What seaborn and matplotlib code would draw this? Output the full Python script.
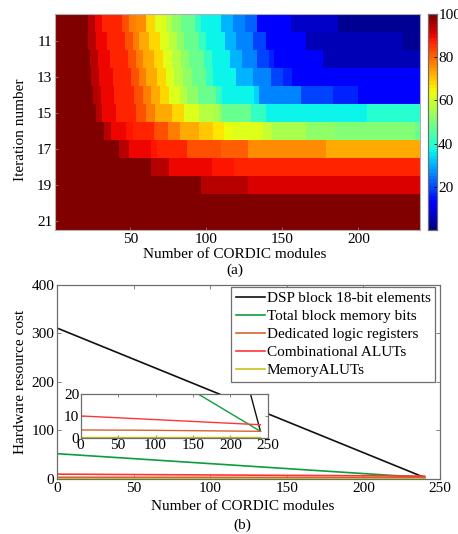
import numpy as np
import pandas as pd
import matplotlib
matplotlib.use("Agg")
import matplotlib.pyplot as plt
import seaborn as sns

# ---------------- data (a): heatmap, iteration number x number of CORDIC modules
iterations = list(range(10, 22))
n_modules = 240
# start column of each colour block and the value (0-100) of that block, per iteration row
row_starts = {
    10: [1, 23, 27, 32, 45, 50, 54, 61, 67, 74, 78, 84, 93, 97, 110, 118, 126, 134, 156, 187],
    11: [1, 23, 28, 35, 47, 52, 56, 63, 70, 76, 81, 86, 96, 100, 113, 120, 131, 140, 166, 230],
    12: [1, 24, 29, 37, 49, 54, 59, 66, 72, 78, 84, 89, 99, 104, 116, 124, 134, 142, 145, 177],
    13: [1, 25, 30, 39, 51, 56, 61, 68, 74, 79, 85, 91, 100, 105, 120, 131, 143, 151, 157],
    14: [1, 26, 31, 40, 53, 59, 64, 70, 76, 83, 88, 95, 107, 111, 132, 135, 163, 184, 200],
    15: [1, 28, 32, 41, 54, 61, 67, 78, 86, 96, 105, 109, 111, 130, 140, 206],
    16: [1, 33, 38, 48, 52, 66, 75, 83, 96, 105, 112, 118, 138, 144, 166, 185, 238],
    17: [1, 43, 50, 64, 68, 88, 110, 128, 179],
    18: [1, 64, 76, 104, 119],
    19: [1, 97, 128],
    20: [1],
    21: [1],
}
row_values = {
    10: [100, 95, 90, 87, 82, 78, 75, 68, 62, 57, 52, 47, 42, 37, 30, 25, 22, 12, 7, 2],
    11: [100, 95, 90, 87, 82, 78, 73, 68, 62, 57, 52, 47, 42, 37, 30, 25, 20, 12, 6, 2],
    12: [100, 95, 90, 87, 82, 78, 73, 68, 62, 57, 52, 47, 42, 37, 30, 25, 20, 16, 12, 6],
    13: [100, 95, 90, 87, 82, 78, 73, 68, 62, 57, 52, 47, 42, 37, 30, 25, 20, 16, 11],
    14: [100, 95, 90, 87, 82, 78, 73, 68, 62, 57, 52, 47, 42, 37, 33, 25, 20, 16, 11],
    15: [100, 95, 90, 87, 82, 78, 73, 68, 62, 57, 55, 52, 47, 42, 37, 40],
    16: [100, 95, 90, 88, 87, 82, 78, 73, 70, 67, 64, 62, 59, 56, 53, 50, 47],
    17: [100, 95, 90, 88, 87, 82, 80, 76, 72],
    18: [100, 95, 90, 88, 87],
    19: [100, 95, 91],
    20: [100],
    21: [100],
}
x_tick_values = [50, 100, 150, 200]
y_tick_values = [11, 13, 15, 17, 19, 21]
cbar_ticks = [20, 40, 60, 80, 100]

# ---------------- data (b): hardware resource cost
series_names = ["DSP block 18-bit elements", "Total block memory bits",
                "Dedicated logic registers", "Combinational ALUTs", "MemoryALUTs"]
dsp_x, dsp_y = [1, 240], [310, 3]
mem_x, mem_y = [1, 240], [52, 3]
reg_x, reg_y = [1, 80, 240], [3.6, 3.5, 3.0]
alut_x, alut_y = [1, 240], [10, 6]
malut_x, malut_y = [1, 240], [0.5, 0.5]
series_colors = ["#111111", "#0a9e3c", "#d8632a", "#ff3535", "#c8c214"]

# ---------------- build tables
matrix = np.zeros((len(iterations), n_modules))
for i, it in enumerate(iterations):
    for s, v in zip(row_starts[it], row_values[it]):
        matrix[i, s - 1:] = v
heat_df = pd.DataFrame(matrix, index=iterations, columns=range(1, n_modules + 1))

parts = []
for name, xs, ys in zip(series_names,
                        [dsp_x, mem_x, reg_x, alut_x, malut_x],
                        [dsp_y, mem_y, reg_y, alut_y, malut_y]):
    parts.append(pd.DataFrame({"modules": xs, "cost": ys, "series": name}))
line_df = pd.concat(parts, ignore_index=True)
palette = dict(zip(series_names, series_colors))

# ---------------- style
plt.rcParams["font.family"] = ["Liberation Serif", "DejaVu Serif"]
plt.rcParams["font.size"] = 11
plt.rcParams["xtick.direction"] = "in"
plt.rcParams["ytick.direction"] = "in"
frame_col = "#6e6e6e"

fig = plt.figure(figsize=(4.58, 5.34), dpi=100)

# ---------------- (a)
ax1 = fig.add_axes([0.120, 0.569, 0.797, 0.405])
cax = fig.add_axes([0.934, 0.569, 0.0197, 0.405])
cmap = plt.get_cmap("jet", 64)
sns.heatmap(heat_df, ax=ax1, cmap=cmap, vmin=0, vmax=100, cbar_ax=cax,
            xticklabels=False, yticklabels=False, cbar_kws={"ticks": cbar_ticks})
ax1.set_xticks([v - 0.5 for v in x_tick_values])
ax1.set_xticklabels([str(v) for v in x_tick_values], fontsize=11)
ax1.set_yticks([iterations.index(v) + 0.5 for v in y_tick_values])
ax1.set_yticklabels([str(v) for v in y_tick_values], fontsize=11, rotation=0)
ax1.set_xlabel("")
ax1.set_ylabel("")
for sp in ax1.spines.values():
    sp.set_visible(True)
    sp.set_color("#b0b0b0")
    sp.set_linewidth(0.8)
ax1.tick_params(length=2, width=0.6, color="#808080", pad=2)
cax.tick_params(labelsize=11, length=2, width=0.6, pad=1)
for sp in cax.spines.values():
    sp.set_visible(True)
    sp.set_color(frame_col)
    sp.set_linewidth(0.8)

fig.text(0.045, 0.757, "Iteration number", rotation=90, ha="center", va="center", fontsize=11)
fig.text(0.513, 0.523, "Number of CORDIC modules", ha="center", va="center", fontsize=11)
fig.text(0.513, 0.494, "(a)", ha="center", va="center", fontsize=11)

# ---------------- (b)
ax2 = fig.add_axes([0.1245, 0.1030, 0.836, 0.3633])
sns.lineplot(data=line_df, x="modules", y="cost", hue="series", hue_order=series_names,
             palette=palette, estimator=None, sort=False, linewidth=1.2, ax=ax2)
ax2.set_xlim(0, 250)
ax2.set_ylim(0, 400)
ax2.set_xticks([0, 50, 100, 150, 200, 250])
ax2.set_yticks([0, 100, 200, 300, 400])
ax2.set_xlabel("")
ax2.set_ylabel("")
ax2.tick_params(labelsize=11, length=3, width=0.6, color=frame_col, top=True, right=True, pad=2)
for sp in ax2.spines.values():
    sp.set_color(frame_col)
    sp.set_linewidth(0.9)
handles, labels = ax2.get_legend_handles_labels()
leg = ax2.legend(handles, labels, loc="upper right", bbox_to_anchor=(0.988, 0.99),
                 fontsize=11, frameon=True, fancybox=False, framealpha=1,
                 edgecolor=frame_col, handlelength=1.9, handletextpad=0.15,
                 labelspacing=0.28, borderpad=0.3, borderaxespad=0)
leg.get_frame().set_linewidth(0.9)

fig.text(0.530, 0.051, "Number of CORDIC modules", ha="center", va="center", fontsize=11)
fig.text(0.530, 0.017, "(b)", ha="center", va="center", fontsize=11)
fig.text(0.045, 0.285, "Hardware resource cost", rotation=90, ha="center", va="center", fontsize=11)

# inset
ax3 = fig.add_axes([0.176, 0.180, 0.409, 0.082])
sns.lineplot(data=line_df, x="modules", y="cost", hue="series", hue_order=series_names,
             palette=palette, estimator=None, sort=False, linewidth=1.0, ax=ax3, legend=False)
ax3.set_xlim(0, 250)
ax3.set_ylim(0, 20)
ax3.set_xticks([0, 50, 100, 150, 200, 250])
ax3.set_yticks([0, 10, 20])
ax3.set_xlabel("")
ax3.set_ylabel("")
ax3.set_facecolor("white")
ax3.tick_params(labelsize=11, length=2, width=0.6, color=frame_col, top=True, right=True, pad=1)
for sp in ax3.spines.values():
    sp.set_color(frame_col)
    sp.set_linewidth(0.9)

fig.savefig("out.png", dpi=100)
